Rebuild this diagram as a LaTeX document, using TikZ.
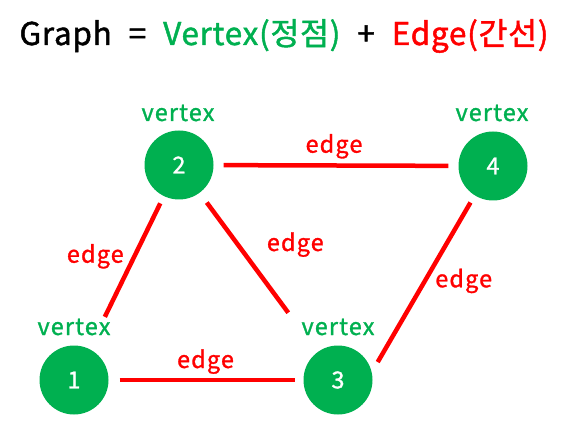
\documentclass[tikz,border=0pt]{standalone}
\usepackage{fontspec}
\setmainfont{Noto Sans CJK KR}[FakeBold=1.2]
\newfontfamily\lblfont{Noto Sans CJK KR}[FakeBold=1.2,LetterSpace=5]
\newfontfamily\ttlfont{Noto Sans CJK KR}[FakeBold=1.5,LetterSpace=2.5]
\definecolor{vgreen}{HTML}{00B050}
\definecolor{ered}{HTML}{FF0000}
\begin{document}
\begin{tikzpicture}[x=1bp,y=-1bp,
  vtx/.style={circle,fill=vgreen,minimum size=69bp,inner sep=0pt,text=white,font=\fontsize{23.5}{27}\selectfont},
  vlab/.style={anchor=base,text=vgreen,font=\lblfont\fontsize{23.5}{27}\selectfont,inner sep=0pt},
  elab/.style={anchor=base,text=ered,font=\lblfont\fontsize{23.5}{27}\selectfont,inner sep=0pt},
  edg/.style={draw=ered,line width=4.5bp}]
\useasboundingbox (0,0) rectangle (571,441);
\node[anchor=base,inner sep=0pt,font=\ttlfont\fontsize{31.5}{36}\selectfont] (title) at (284,45)
  {Graph\hspace{17bp}=\hspace{17bp}\textcolor{vgreen}{Vertex(정점)}\hspace{17bp}+\hspace{17bp}\textcolor{ered}{Edge(간선)}};
\node[vtx] (n1) at (74,380) {1};
\node[vtx] (n2) at (179,165) {2};
\node[vtx] (n3) at (338,380) {3};
\node[vtx] (n4) at (493,166) {4};
\node[vlab] (v1) at (74,335) {vertex};
\node[vlab] (v2) at (178,121) {vertex};
\node[vlab] (v3) at (338,335) {vertex};
\node[vlab] (v4) at (492,121) {vertex};
\draw[edg,shorten <=11bp,shorten >=8bp] (n1) -- (n3);
\draw[edg,shorten <=10bp,shorten >=10bp] (n2) -- (n4);
\draw[edg,shorten <=35.6bp,shorten >=8bp] (n1) -- (n2);
\draw[edg,shorten <=12bp,shorten >=49bp] (n2) -- (n3);
\draw[edg,shorten <=11.7bp,shorten >=8.2bp] (n3.13) -- (n4.238);
\node[elab] (e13) at (205.5,368) {edge};
\node[elab] (e24) at (334,152.7) {edge};
\node[elab] (e12) at (95.3,262.7) {edge};
\node[elab] (e23) at (295.3,251) {edge};
\node[elab] (e34) at (463.7,287.3) {edge};
\end{tikzpicture}
\end{document}
